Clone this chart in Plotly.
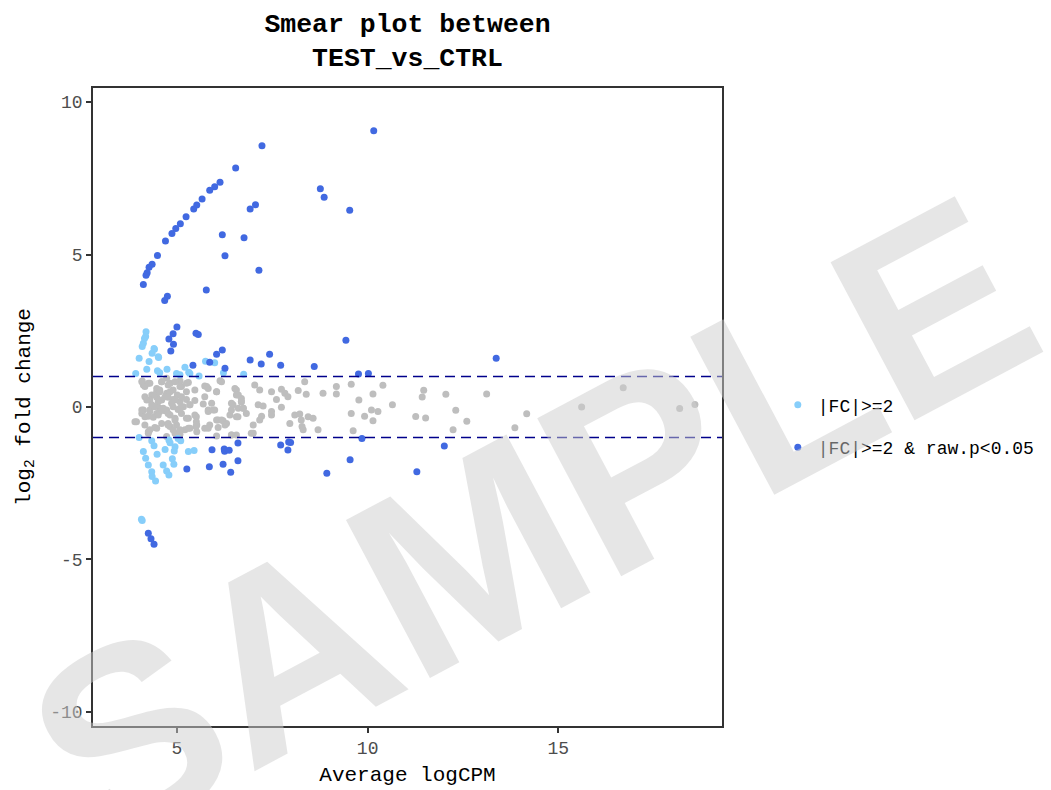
import plotly.graph_objects as go

# ---------------- data ----------------
grey_x = [4.09, 4.12, 4.25, 4.60, 4.73, 4.82, 5.08, 5.30, 5.12, 4.90, 4.73, 4.55, 4.47, 4.34, 4.16, 4.29, 4.47,
          4.60, 4.77, 4.90, 5.01, 5.08, 5.25, 5.34, 5.47, 5.17, 5.03, 4.90, 4.73, 4.55, 4.47, 4.29, 4.12, 4.08,
          4.25, 4.38, 4.55, 4.69, 4.82, 4.95, 5.12, 5.30, 5.51, 5.51, 5.50, 5.34, 5.21, 4.99, 4.82, 4.77, 4.60,
          4.42, 4.29, 4.16, 3.94, 4.90, 5.08, 5.73, 5.82, 6.04, 6.13, 5.69, 5.82, 5.99, 6.08, 6.21, 6.30, 6.08,
          5.86, 5.82, 6.39, 6.56, 6.61, 6.47, 6.69, 6.74, 6.56, 6.61, 6.69, 6.82, 6.95, 7.00, 7.04, 7.17, 7.13,
          7.26, 7.22, 7.17, 7.48, 7.61, 7.74, 7.83, 7.91, 7.74, 7.48, 7.48, 7.96, 8.09, 8.22, 8.26, 8.28, 8.31,
          8.44, 8.57, 8.70, 8.18, 8.35, 8.39, 8.83, 9.18, 9.18, 9.57, 9.77, 10.14, 10.40, 10.65, 9.57, 9.92,
          10.10, 10.14, 10.27, 9.62, 4.73, 4.25, 6.43, 6.56, 6.04,
          11.47, 11.43, 12.05, 13.12, 11.26, 11.52, 12.31, 12.60, 12.24, 13.86, 14.17, 15.61, 16.70, 18.18, 18.58,
          4.08, 4.16, 4.29, 4.47, 4.60, 4.77, 4.95, 5.08, 5.25, 5.78, 6.04, 4.42, 4.55, 4.69, 4.82, 4.95, 5.12,
          5.25, 5.47, 5.73, 5.91, 6.17, 6.52, 6.56, 6.69, 6.43, 4.21, 4.34, 4.51, 4.86, 5.34,
          3.90, 4.08, 4.16, 4.29, 4.42, 4.51, 4.64, 4.77, 4.77, 4.95, 5.08, 5.25, 5.30, 5.47, 5.52, 5.52, 5.73,
          5.82, 5.95, 6.04, 6.17, 6.26, 6.43, 6.43, 6.60, 6.74, 7.00, 4.25, 4.47, 4.95, 5.08]
grey_y = [0.85, 0.72, 0.78, 0.83, 0.94, 0.78, 0.86, 0.80, 0.67, 0.56, 0.45, 0.56, 0.50, 0.39, 0.34, 0.23, 0.32,
          0.23, 0.32, 0.25, 0.39, 0.17, 0.25, 0.07, 0.21, 0.01, -0.08, 0.01, -0.10, -0.04, -0.21, -0.10, -0.10,
          -0.21, -0.30, -0.34, -0.15, -0.12, -0.26, -0.37, -0.21, -0.37, -0.32, -0.48, -0.64, -0.70, -0.75, -0.59,
          -0.64, -0.54, -0.54, -0.67, -0.75, -0.59, -0.48, -0.75, -0.89, 0.69, 0.61, 0.50, 0.86, 0.10, -0.10,
          -0.10, -0.43, -0.45, -0.54, -0.67, -0.59, -0.70, -0.26, -0.32, -0.04, 0.07, 0.17, -0.04, 0.56, 0.39,
          0.28, -0.21, -0.86, -0.59, 0.72, 0.56, 0.07, 0.03, -0.30, -0.43, 0.50, 0.25, 0.58, 0.45, 0.34, -0.01,
          -0.15, -0.26, -0.54, -0.26, -0.23, -0.43, -0.64, -0.75, -0.32, -0.37, -0.75, 0.54, 0.83, 0.42, 0.45,
          0.67, 0.43, 0.75, 0.23, 0.43, 0.71, 0.07, -0.21, -0.30, -0.10, -0.45, -0.15, -0.78, -0.97, -0.86,
          -0.92, -0.92, -0.95,
          0.55, 0.33, 0.42, 0.43, -0.31, -0.36, -0.11, -0.47, -0.75, -0.68, -0.22, 0.00, 0.63, -0.05, 0.08,
          0.83, 0.67, 0.78, 0.61, 0.83, 0.72, 0.83, 0.67, 0.78, 0.67, 0.50, 0.39, 0.50, 0.34, 0.50, 0.23, 0.34,
          0.50, 0.56, 0.34, 0.12, 0.83, 0.61, 0.39, 0.17, 0.12, 0.23, 0.07, 0.17, 0.12, 0.07,
          -0.48, -0.10, -0.32, -0.15, 0.01, -0.26, -0.04, -0.21, -0.59, -0.43, -0.04, -0.37, -0.70, -0.26, -0.59,
          -0.81, -0.70, -0.15, -0.10, -0.43, -0.43, -0.59, -0.92, -0.10, -0.32, -0.04, -0.86, -0.81, -0.70,
          -0.86, -0.75]

light_x = [4.19, 4.18, 4.12, 4.09, 4.41, 4.35, 4.51, 4.01, 4.27, 4.21, 3.92, 4.49, 4.55, 4.74, 4.99, 5.21, 5.34,
           5.58, 5.75, 5.99, 6.22, 6.75, 4.40, 4.52, 4.15, 5.08, 5.31,
           4.01, 4.34, 4.40, 4.12, 4.48, 4.18, 4.25, 4.34, 4.35, 4.44, 4.79, 4.69, 5.03, 5.10, 4.95, 4.93, 5.30,
           5.45, 4.64, 4.73, 4.79, 4.88, 4.92, 4.82, 4.09, 4.07]
light_y = [2.47, 2.31, 2.09, 1.98, 1.89, 1.76, 1.65, 1.60, 1.49, 1.24, 1.10, 1.19, 1.12, 1.24, 1.10, 1.30, 1.10,
           1.02, 1.50, 1.45, 1.12, 1.07, 1.92, 1.62, 2.25, 1.06, 1.14,
           -1.00, -1.11, -1.27, -1.46, -1.55, -1.68, -1.90, -2.12, -2.28, -2.43, -1.08, -1.39, -1.03, -1.11,
           -1.30, -1.44, -1.46, -1.43, -1.90, -2.10, -2.23, -1.70, -1.88, -1.17, -3.72, -3.68]

dark_x = [10.16, 7.23, 6.54, 6.13, 5.99, 5.86, 5.66, 5.52, 5.44, 5.24, 5.09, 4.97, 4.87, 4.70, 4.49, 4.35, 4.27,
          4.22, 4.19, 4.12, 4.75, 4.68, 5.77, 6.19, 6.26, 6.76, 6.92, 7.06, 7.15, 8.76, 8.86, 9.53,
          5.00, 4.90, 4.79, 4.91, 4.84, 5.50, 5.56, 6.04, 6.19, 5.86, 6.26, 5.42, 6.92, 7.21, 7.43, 7.72, 8.60,
          9.43, 9.76, 10.02, 13.37,
          7.72, 7.93, 7.98, 7.91, 8.93, 9.54, 9.85, 5.92, 6.24, 6.25, 6.37, 6.60, 6.60, 5.85, 6.21, 6.41, 5.26,
          12.01, 11.29, 4.25, 4.32, 4.40]
dark_y = [9.06, 8.57, 7.84, 7.37, 7.22, 7.11, 6.82, 6.62, 6.49, 6.24, 6.01, 5.85, 5.69, 5.44, 4.97, 4.68, 4.58,
          4.40, 4.32, 4.02, 3.63, 3.49, 3.84, 5.65, 4.96, 5.55, 6.49, 6.63, 4.48, 7.16, 6.88, 6.45,
          2.62, 2.40, 2.23, 2.06, 1.84, 2.42, 2.38, 1.73, 1.87, 1.47, 1.27, 1.37, 1.54, 1.41, 1.73, 1.37, 1.33,
          2.19, 1.08, 1.10, 1.60,
          -1.25, -1.15, -1.16, -1.41, -2.17, -1.73, -1.03, -1.40, -1.38, -1.45, -1.42, -1.18, -1.76, -1.96,
          -1.88, -2.14, -2.03, -1.28, -2.12, -4.14, -4.32, -4.50]

thresholds = [1, -1]
y_ticks = [-10, -5, 0, 5, 10]
y_tick_text = ["-10", "-5", "0", "5", "10"]
x_ticks = [5, 10, 15]
x_tick_text = ["5", "10", "15"]

series_names = ["|FC|>=2", "|FC|>=2 & raw.p<0.05"]
title_text = "Smear plot between<br>TEST_vs_CTRL"

# ---------------- style ----------------
MONO = "Liberation Mono"
C_GREY = "#BEBEBE"
C_LIGHT = "#87CEFA"
C_DARK = "#4169E1"
C_LINE = "#00008B"
AX = "#333333"

fig = go.Figure()
fig.add_trace(go.Scatter(x=grey_x, y=grey_y, mode="markers", showlegend=False,
                         marker=dict(color=C_GREY, size=7, line=dict(width=0)), hoverinfo="skip"))
fig.add_trace(go.Scatter(x=light_x, y=light_y, mode="markers", name=series_names[0], legendgroup="a",
                         marker=dict(color=C_LIGHT, size=7, line=dict(width=0))))
fig.add_trace(go.Scatter(x=dark_x, y=dark_y, mode="markers", name=series_names[1], legendgroup="b",
                         marker=dict(color=C_DARK, size=7, line=dict(width=0))))

for t in thresholds:
    fig.add_hline(y=t, line=dict(color=C_LINE, width=1.5, dash="10px,6px"), layer="above")

fig.add_annotation(text="<b>SAMPLE</b>", xref="paper", yref="paper", x=0.697, y=0.32,
                   xanchor="center", yanchor="middle",
                   showarrow=False, textangle=-28,
                   font=dict(family="Liberation Sans", size=260, color="rgba(205,205,205,0.5)"))

fig.update_layout(
    width=1051, height=790,
    margin=dict(l=93, r=328, t=88, b=64),
    paper_bgcolor="white", plot_bgcolor="white",
    title=dict(text="<b>" + title_text + "</b>", x=0.5, xref="paper", xanchor="center",
               y=0.96, yref="container", yanchor="top",
               font=dict(family=MONO, size=26.5, color="black")),
    font=dict(family=MONO, color="black"),
    showlegend=True,
    legend=dict(x=1.087, y=0.47, xanchor="left", yanchor="middle", xref="paper", yref="paper",
                font=dict(family=MONO, size=18, color="black"), tracegroupgap=16,
                bgcolor="rgba(0,0,0,0)"),
    xaxis=dict(range=[2.8, 19.29], tickvals=x_ticks, ticktext=x_tick_text, showgrid=False, zeroline=False,
               showline=True, linecolor=AX, linewidth=1.5, mirror=True, ticks="outside", ticklen=5,
               tickwidth=1.5, tickcolor=AX, tickfont=dict(family=MONO, size=18, color="#4D4D4D"),
               automargin=False,
               title=dict(text="Average logCPM", font=dict(family=MONO, size=21, color="black"), standoff=8)),
    yaxis=dict(range=[-10.46, 10.46], tickvals=y_ticks, ticktext=y_tick_text, showgrid=False, zeroline=False,
               showline=True, linecolor=AX, linewidth=1.5, mirror=True, ticks="outside", ticklen=5,
               tickwidth=1.5, tickcolor=AX, tickfont=dict(family=MONO, size=18, color="#4D4D4D"),
               automargin=False,
               title=dict(text="log<sub>2</sub> fold change", font=dict(family=MONO, size=21, color="black"),
                          standoff=14)),
)

fig.write_html("out.html")
